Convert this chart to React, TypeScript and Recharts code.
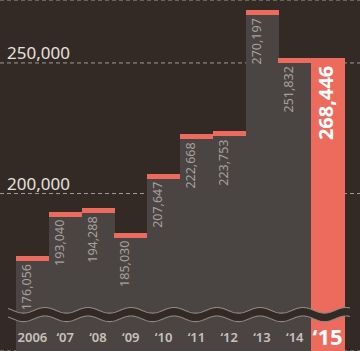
import { BarChart, Bar, XAxis, YAxis, CartesianGrid, LabelList } from "recharts";

const years = ["2006", "‘07", "‘08", "‘09", "‘10", "‘11", "‘12", "‘13", "‘14", "‘15"];
const visitors = [176056, 193040, 194288, 185030, 207647, 222668, 223753, 270197, 251832, 268446];
// height each bar is drawn to; the 2015 bar is cut off at about the 2014 level in the original
const barTops = [176056, 193040, 194288, 185030, 207647, 222668, 223753, 270197, 251832, 252000];
const gridValues = [200000, 250000];

const BG = "#332a26";
const GRAY = "#4a4542";
const RED = "#ec6b5d";
const FONT = "'Noto Sans', sans-serif";

const data = years.map((year, i) => ({ year, value: visitors[i], top: barTops[i] }));
const lastYear = years[years.length - 1];

function BarShape(props: any) {
  const { x, y, width, height, payload } = props;
  const last = payload?.year === lastYear;
  return (
    <g shapeRendering="crispEdges">
      <rect x={x} y={y} width={width + 0.5} height={height} fill={last ? RED : GRAY} />
      {!last && <rect x={x} y={y} width={width + 0.5} height={5} fill={RED} />}
    </g>
  );
}

function ValueLabel(props: any) {
  const { x, y, value } = props;
  const last = value === visitors[visitors.length - 1];
  const ax = x + (last ? 22 : 15);
  const ay = y + 8;
  return (
    <text
      x={ax}
      y={ay}
      transform={`rotate(-90, ${ax}, ${ay})`}
      textAnchor="end"
      fontFamily={FONT}
      fontSize={last ? 20 : 12.5}
      fontWeight={last ? 700 : 400}
      fill={last ? "#ffffff" : "#a6a19d"}
    >
      {value.toLocaleString("en-US")}
    </text>
  );
}

function YearTick(props: any) {
  const { x, y, payload } = props;
  const last = payload.value === lastYear;
  return (
    <text
      x={x}
      y={y}
      dy={last ? 2 : -1}
      textAnchor="middle"
      fontFamily={FONT}
      fontSize={last ? 22 : 13}
      fontWeight={last ? 700 : 600}
      fill={last ? "#ffffff" : "#c7c2be"}
    >
      {payload.value}
    </text>
  );
}

function GridTick(props: any) {
  const { y, payload } = props;
  return (
    <text x={7} y={y} dy={-4} fontFamily={FONT} fontSize={17} fill="#e6e1dd">
      {payload.value.toLocaleString("en-US")}
    </text>
  );
}

function Wave() {
  const top: string[] = [];
  const bottom: string[] = [];
  for (let x = 8; x <= 350; x += 1) {
    const off = -2.8 * Math.cos((2 * Math.PI * (x - 45)) / 43);
    top.push(`${x},${(310.3 + off).toFixed(2)}`);
    bottom.push(`${x},${(318.8 + off).toFixed(2)}`);
  }
  const band = `M${top.join(" L")} L${[...bottom].reverse().join(" L")} Z`;
  return (
    <svg width={360} height={351} style={{ position: "absolute", left: 0, top: 0 }}>
      <path d={band} fill={BG} />
      <path d={`M${top.join(" L")}`} fill="none" stroke="#8d8783" strokeWidth={1.1} />
      <path d={`M${bottom.join(" L")}`} fill="none" stroke="#8d8783" strokeWidth={1.1} />
    </svg>
  );
}

export default function App() {
  return (
    <div style={{ position: "absolute", left: 0, top: 0, width: 360, height: 351, background: BG }}>
      <BarChart width={360} height={351} data={data} margin={{ top: 0, right: 0, bottom: 0, left: 0 }} barCategoryGap={0}>
        <CartesianGrid vertical={false} stroke="#a39b96" strokeDasharray="4 3" />
        <YAxis
          type="number"
          domain={[139700, 274100]}
          ticks={gridValues}
          mirror
          axisLine={false}
          tickLine={false}
          tick={<GridTick />}
          allowDataOverflow
        />
        <Bar dataKey="top" shape={<BarShape />} isAnimationActive={false}>
          <LabelList dataKey="value" content={<ValueLabel />} />
        </Bar>
        <XAxis
          dataKey="year"
          mirror
          axisLine={false}
          tickLine={false}
          padding={{ left: 16, right: 16 }}
          tick={<YearTick />}
          interval={0}
        />
      </BarChart>
      <Wave />
    </div>
  );
}
